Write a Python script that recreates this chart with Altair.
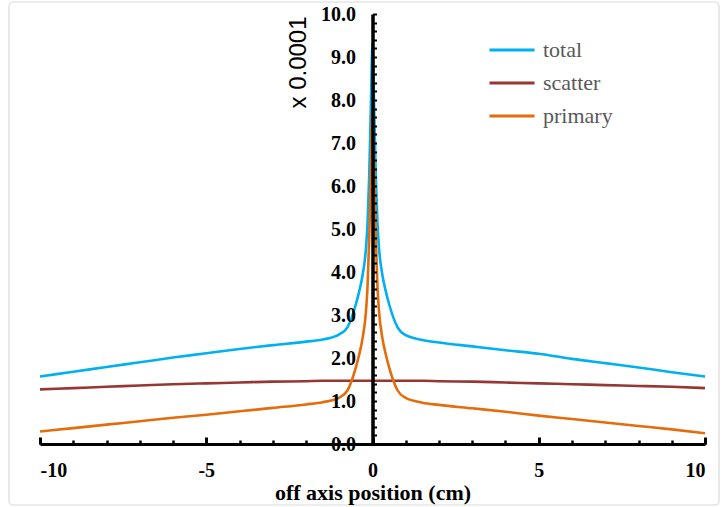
import altair as alt
import pandas as pd

# ---------------- data ----------------
x_pos = [-10, -9, -8, -7, -6, -5, -4, -3, -2, -1.5, -1, -0.75, -0.5, -0.4, -0.3, -0.2, -0.15, -0.1, -0.05, 0,
         0.05, 0.1, 0.15, 0.2, 0.3, 0.4, 0.5, 0.75, 1, 1.5, 2, 3, 4, 5, 6, 7, 8, 9, 10]

total = [1.57, 1.68, 1.79, 1.90, 2.01, 2.11, 2.21, 2.30, 2.38, 2.43, 2.55, 2.72, 3.25, 3.55, 3.92, 4.52, 5.12, 6.22, 7.82, 9.32,
         7.82, 6.22, 5.12, 4.52, 3.92, 3.55, 3.25, 2.72, 2.53, 2.42, 2.36, 2.27, 2.18, 2.10, 1.98, 1.88, 1.78, 1.67, 1.57]

scatter = [1.27, 1.30, 1.33, 1.36, 1.39, 1.41, 1.43, 1.45, 1.46, 1.47, 1.47, 1.47, 1.47, 1.47, 1.47, 1.47, 1.47, 1.47, 1.47, 1.47,
           1.47, 1.47, 1.47, 1.47, 1.47, 1.47, 1.47, 1.47, 1.47, 1.47, 1.46, 1.45, 1.43, 1.41, 1.39, 1.37, 1.35, 1.33, 1.30]

primary = [0.29, 0.37, 0.45, 0.53, 0.61, 0.68, 0.76, 0.84, 0.92, 0.97, 1.08, 1.25, 1.78, 2.08, 2.45, 3.05, 3.65, 4.75, 6.35, 7.85,
           6.35, 4.75, 3.65, 3.05, 2.45, 2.08, 1.78, 1.25, 1.07, 0.96, 0.91, 0.83, 0.75, 0.66, 0.58, 0.50, 0.42, 0.34, 0.25]

series_names = ["total", "scatter", "primary"]
series_colors = ["#00B0F0", "#953735", "#E46C0A"]

y_label_values = [0, 1, 2, 3, 4, 5, 6, 7, 8, 9, 10]
y_minor_ticks = [0, 0.2, 0.4, 0.6, 0.8, 1, 1.2, 1.4, 1.6, 1.8, 2, 2.2, 2.4, 2.6, 2.8, 3, 3.2, 3.4, 3.6, 3.8,
                 4, 4.2, 4.4, 4.6, 4.8, 5, 5.2, 5.4, 5.6, 5.8, 6, 6.2, 6.4, 6.6, 6.8, 7, 7.2, 7.4, 7.6, 7.8,
                 8, 8.2, 8.4, 8.6, 8.8, 9, 9.2, 9.4, 9.6, 9.8, 10]
x_label_values = [-10, -5, 0, 5, 10]
x_minor_ticks = [-10, -9, -8, -7, -6, -5, -4, -3, -2, -1, 0, 1, 2, 3, 4, 5, 6, 7, 8, 9, 10]

rows = []
for name, vals in zip(series_names, [total, scatter, primary]):
    for xv, yv in zip(x_pos, vals):
        rows.append({"x": xv, "value": yv, "series": name})
df = pd.DataFrame(rows)

# ---------------- layout ----------------
W, H = 665, 430
SERIF = "Liberation Serif"
SANS = "Liberation Sans"

xs = alt.Scale(domain=[-10, 10], nice=False, zero=False)
ys = alt.Scale(domain=[0, 10], nice=False)

frame = alt.Chart(alt.Data(values=[{"k": 1}])).mark_rect(
    filled=False, stroke="#d9d9d9", strokeWidth=1.2, cornerRadius=4, clip=False
).encode(
    x=alt.value(-31), x2=alt.value(W + 14), y=alt.value(-12), y2=alt.value(H + 61)
)

lines = alt.Chart(df).mark_line(strokeWidth=2.6, interpolate="monotone").encode(
    x=alt.X("x:Q", scale=xs, axis=alt.Axis(
        orient="bottom", values=x_label_values,
        labelExpr="datum.value < 0 ? '-' + abs(datum.value) : '' + datum.value",
        labelFont=SERIF, labelFontWeight="bold", labelFontSize=20, labelColor="black",
        labelPadding=16, ticks=False, tickSize=0, domain=True, domainColor="black",
        domainWidth=3, grid=False, title="off axis position (cm)", titleFont=SERIF,
        titleFontSize=22, titleFontWeight="bold", titleColor="black", titlePadding=2, zindex=1)),
    y=alt.Y("value:Q", scale=ys, axis=alt.Axis(
        orient="left", offset=-W / 2, values=y_label_values, format=".1f",
        labelFont=SERIF, labelFontWeight="bold", labelFontSize=20, labelColor="black",
        labelPadding=17, ticks=False, tickSize=0, domain=False, grid=False,
        title="x 0.0001", titleFont=SANS, titleFontSize=24, titleFontWeight="normal",
        titleColor="black", titleAngle=270, titleX=-67, titleY=48, titleAlign="center",
        titleBaseline="alphabetic", zindex=1)),
    color=alt.Color("series:N", sort=series_names,
                    scale=alt.Scale(domain=series_names, range=series_colors),
                    legend=alt.Legend(orient="none", legendX=448, legendY=22, title=None,
                                      symbolType="stroke", symbolSize=2025, symbolStrokeWidth=3,
                                      labelFont=SERIF, labelFontSize=22, labelColor="#595959",
                                      labelOffset=7, clipHeight=28, rowPadding=5, padding=0)),
)

minor = alt.Chart(df).mark_point(opacity=0).encode(
    x=alt.X("x:Q", scale=xs, axis=alt.Axis(
        orient="top", offset=-H, values=x_minor_ticks, tickSize=4, tickWidth=2.5,
        tickColor="black", labels=False, domain=False, grid=False, title=None, zindex=2)),
    y=alt.Y("value:Q", scale=ys, axis=alt.Axis(
        orient="right", offset=-W / 2, values=y_minor_ticks, tickSize=4, tickWidth=2,
        tickColor="black", labels=False, domain=True, domainColor="black", domainWidth=3.5,
        grid=False, title=None, zindex=2)),
)

major = alt.Chart(df).mark_point(opacity=0).encode(
    x=alt.X("x:Q", scale=xs, axis=alt.Axis(
        orient="top", offset=-H, values=x_label_values, tickSize=7, tickWidth=3,
        tickColor="black", labels=False, domain=False, grid=False, title=None, zindex=2)),
    y=alt.Y("value:Q", scale=ys, axis=None),
)

chart = alt.layer(frame, lines, minor, major).resolve_axis(
    x="independent", y="independent"
).properties(
    width=W, height=H, autosize="none",
    padding={"left": 40, "top": 14, "right": 17, "bottom": 63},
    background="white",
).configure_view(stroke=None)

chart.save("out.html", embed_options={"renderer": "svg", "actions": False})
